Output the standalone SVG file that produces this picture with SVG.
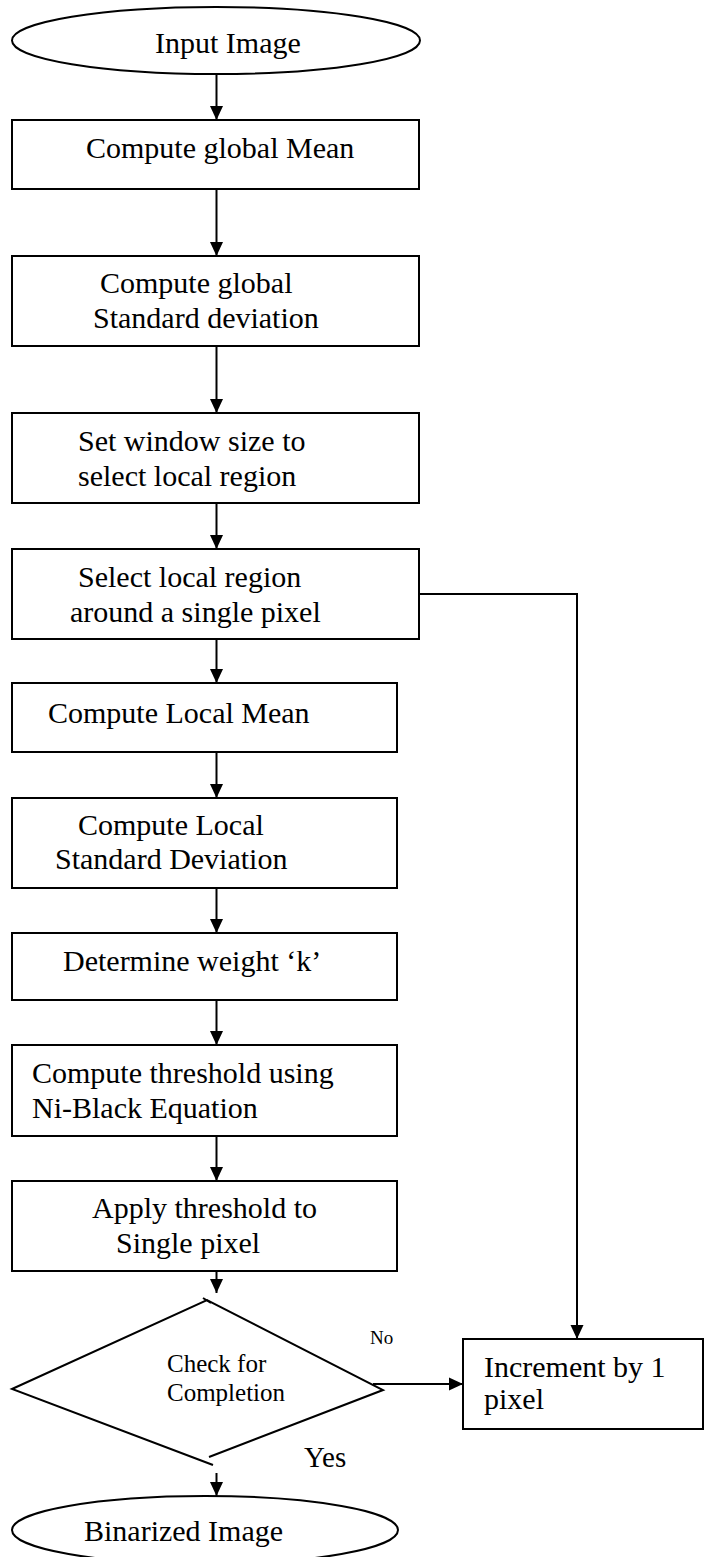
<svg xmlns="http://www.w3.org/2000/svg" width="704" height="1557" viewBox="0 0 704 1557">
<style>
.s{fill:#fff;stroke:#000;stroke-width:2}
.t{font-family:"Liberation Serif","Times New Roman",serif;font-size:30px;fill:#000}
.c{fill:none;stroke:#000;stroke-width:2}
</style>
<defs>
<marker id="ah" markerUnits="userSpaceOnUse" markerWidth="14" markerHeight="14" refX="14" refY="7" orient="auto" viewBox="0 0 14 14">
<path d="M0,0.5 L14,7 L0,13.5 z" fill="#000"/>
</marker>
</defs>
<rect width="704" height="1557" fill="#fff"/>
<g id="connectors">
<line class="c" x1="216.5" y1="74" x2="216.5" y2="120" marker-end="url(#ah)"/>
<line class="c" x1="216.5" y1="189" x2="216.5" y2="256" marker-end="url(#ah)"/>
<line class="c" x1="216.5" y1="346" x2="216.5" y2="413" marker-end="url(#ah)"/>
<line class="c" x1="216.5" y1="503" x2="216.5" y2="549" marker-end="url(#ah)"/>
<line class="c" x1="216.5" y1="639" x2="216.5" y2="683" marker-end="url(#ah)"/>
<line class="c" x1="216.5" y1="752" x2="216.5" y2="798" marker-end="url(#ah)"/>
<line class="c" x1="216.5" y1="888" x2="216.5" y2="933" marker-end="url(#ah)"/>
<line class="c" x1="216.5" y1="1000" x2="216.5" y2="1045" marker-end="url(#ah)"/>
<line class="c" x1="216.5" y1="1136" x2="216.5" y2="1181" marker-end="url(#ah)"/>
<line class="c" x1="216.5" y1="1271" x2="216.5" y2="1293" marker-end="url(#ah)"/>
<line class="c" x1="373" y1="1384" x2="463" y2="1384" marker-end="url(#ah)"/>
<polyline class="c" points="419,594 577,594 577,1339" marker-end="url(#ah)"/>
<line class="c" x1="216.5" y1="1473" x2="216.5" y2="1496" marker-end="url(#ah)"/>
</g>
<g id="start">
<ellipse class="s" cx="216" cy="40.5" rx="204" ry="33.5"/>
<text class="t" x="155" y="53">Input Image</text>
</g>
<g id="n1">
<rect class="s" x="12" y="120" width="407" height="69"/>
<text class="t" x="86" y="158">Compute global Mean</text>
</g>
<g id="n2">
<rect class="s" x="12" y="256" width="407" height="90"/>
<text class="t" x="100" y="293">Compute global</text>
<text class="t" x="93" y="328">Standard deviation</text>
</g>
<g id="n3">
<rect class="s" x="12" y="413" width="407" height="90"/>
<text class="t" x="78" y="451">Set window size to</text>
<text class="t" x="78" y="486">select local region</text>
</g>
<g id="n4">
<rect class="s" x="12" y="549" width="407" height="90"/>
<text class="t" x="78" y="587">Select local region</text>
<text class="t" x="70" y="622">around a single pixel</text>
</g>
<g id="n5">
<rect class="s" x="12" y="683" width="385" height="69"/>
<text class="t" x="48" y="723">Compute Local Mean</text>
</g>
<g id="n6">
<rect class="s" x="12" y="798" width="385" height="90"/>
<text class="t" x="78" y="835">Compute Local</text>
<text class="t" x="55" y="869">Standard Deviation</text>
</g>
<g id="n7">
<rect class="s" x="12" y="933" width="385" height="67"/>
<text class="t" x="63" y="971">Determine weight ‘k’</text>
</g>
<g id="n8">
<rect class="s" x="12" y="1045" width="385" height="91"/>
<text class="t" x="32" y="1083">Compute threshold using</text>
<text class="t" x="32" y="1118">Ni-Black Equation</text>
</g>
<g id="n9">
<rect class="s" x="12" y="1181" width="385" height="90"/>
<text class="t" x="92" y="1218">Apply threshold to</text>
<text class="t" x="116" y="1253">Single pixel</text>
</g>
<g id="decision">
<path class="c" d="M213,1465 L12,1389 L207,1300 L383,1390 L209,1457"/>
<line class="c" x1="203" y1="1298" x2="211" y2="1303"/>
<text class="t" x="167" y="1372" style="font-size:25px">Check for</text>
<text class="t" x="167" y="1401" style="font-size:25px">Completion</text>
</g>
<g id="labels">
<text class="t" x="370" y="1344" style="font-size:19px">No</text>
<text class="t" x="304" y="1467" style="font-size:29px">Yes</text>
</g>
<g id="n10">
<rect class="s" x="463" y="1339" width="240" height="90"/>
<text class="t" x="484" y="1377">Increment by 1</text>
<text class="t" x="484" y="1409">pixel</text>
</g>
<g id="end">
<ellipse class="s" cx="205" cy="1530" rx="193" ry="34"/>
<text class="t" x="84" y="1541">Binarized Image</text>
</g>
</svg>
